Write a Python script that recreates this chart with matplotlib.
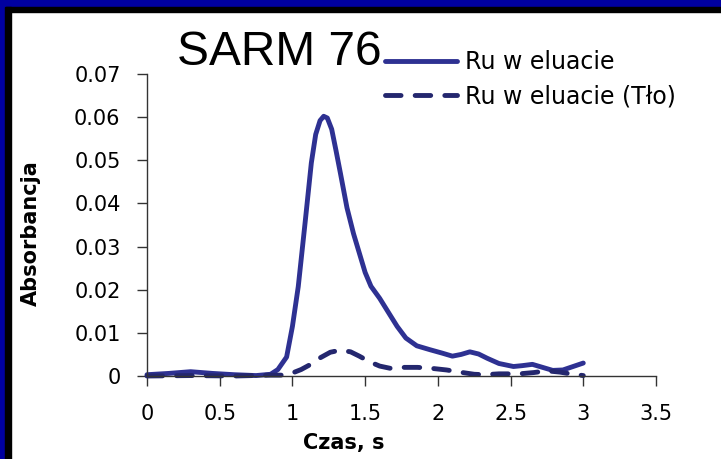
import matplotlib.pyplot as plt
from matplotlib.patches import Rectangle

# Ru w eluacie (solid)
t_ru = [0.0, 0.15, 0.3, 0.45, 0.6, 0.75, 0.85, 0.9, 0.96, 1.0, 1.04, 1.087, 1.13,
        1.16, 1.19, 1.215, 1.24, 1.27, 1.30, 1.33, 1.375, 1.42, 1.46, 1.5, 1.54,
        1.6, 1.67, 1.72, 1.78, 1.855, 1.945, 2.03, 2.1, 2.16, 2.22, 2.28, 2.34,
        2.42, 2.52, 2.58, 2.65, 2.72, 2.79, 2.86, 2.93, 3.0]
a_ru = [0.0003, 0.0006, 0.0010, 0.0006, 0.0003, 0.0001, 0.0004, 0.0015, 0.0044,
        0.0115, 0.0207, 0.0355, 0.0494, 0.0560, 0.0592, 0.0602, 0.0598, 0.0572,
        0.0522, 0.0470, 0.0390, 0.0330, 0.0285, 0.0240, 0.0208, 0.0180, 0.0142,
        0.0115, 0.0088, 0.0070, 0.0061, 0.0053, 0.0046, 0.0050, 0.0056, 0.0051,
        0.0041, 0.0029, 0.0022, 0.0024, 0.0027, 0.0020, 0.0013, 0.0014, 0.0022,
        0.0030]

# Ru w eluacie (Tło) (dashed)
t_bg = [0.0, 0.3, 0.6, 0.85, 0.95, 1.0, 1.06, 1.12, 1.19, 1.26, 1.33, 1.4, 1.46,
        1.53, 1.6, 1.67, 1.77, 1.86, 1.95, 2.06, 2.17, 2.25, 2.32, 2.42, 2.56,
        2.66, 2.75, 2.84, 2.91, 3.0]
a_bg = [0.0, 0.0001, 0.0, 0.0002, 0.0002, 0.0007, 0.0015, 0.0026, 0.0042, 0.0055,
        0.0060, 0.0056, 0.0046, 0.0033, 0.0023, 0.0018, 0.0020, 0.0020, 0.0018,
        0.0014, 0.0008, 0.0004, 0.0003, 0.0005, 0.0005, 0.0008, 0.0012, 0.0009,
        0.0005, 0.0001]

xticks = [0, 0.5, 1, 1.5, 2, 2.5, 3, 3.5]
yticks = [0, 0.01, 0.02, 0.03, 0.04, 0.05, 0.06, 0.07]

W, H = 721, 459
fig = plt.figure(figsize=(W / 100, H / 100), dpi=100)
ax = fig.add_axes([147 / W, 1 - 376 / H, (656 - 147) / W, (376 - 74) / H])

# frame of the slide: blue bar with a black inner line, top and left
fig.patches.append(Rectangle((0, 1 - 7 / H), 1, 7 / H, transform=fig.transFigure,
                             color='#0000A0', zorder=0))
fig.patches.append(Rectangle((0, 1 - 12 / H), 1, 5 / H, transform=fig.transFigure,
                             color='black', zorder=0))
fig.patches.append(Rectangle((0, 0), 5 / W, 1, transform=fig.transFigure,
                             color='#0000A0', zorder=0))
fig.patches.append(Rectangle((5 / W, 0), 6 / W, 1 - 7 / H, transform=fig.transFigure,
                             color='black', zorder=0))

solid, = ax.plot(t_ru, a_ru, color='#2E3192', lw=3.5, solid_capstyle='round',
                 solid_joinstyle='round', clip_on=False)
dashed, = ax.plot(t_bg, a_bg, color='#24276E', lw=3.5, dashes=(3.2, 2.9),
                  dash_capstyle='round', clip_on=False)

ax.set_xlim(0, 3.5)
ax.set_ylim(0, 0.07)
ax.set_xticks(xticks)
ax.set_xticklabels([f'{v:g}' for v in xticks])
ax.set_yticks(yticks)
ax.set_yticklabels([f'{v:g}' for v in yticks])

for s in ['top', 'right']:
    ax.spines[s].set_visible(False)
for s in ['left', 'bottom']:
    ax.spines[s].set_color('#333333')
    ax.spines[s].set_linewidth(1.0)

ax.tick_params(axis='both', direction='out', length=7, width=1.0, color='#333333',
               labelsize=15)
ax.tick_params(axis='x', pad=13)
ax.tick_params(axis='y', pad=12)

ax.set_xlabel('Czas, s', fontsize=15, fontweight='bold')
ax.xaxis.set_label_coords((344 - 147) / (656 - 147), -0.19)
ax.set_ylabel('Absorbancja', fontsize=15, fontweight='bold')
ax.yaxis.set_label_coords((41 - 147) / (656 - 147), (376 - 233) / (376 - 74))

fig.text(177 / W, 1 - 65 / H, 'SARM 76', fontsize=34.5, family='Liberation Sans',
         va='baseline', ha='left')

fig.legend([solid, dashed], ['Ru w eluacie', 'Ru w eluacie (Tło)'],
           loc='upper left', bbox_to_anchor=(385 / W, 1 - 50 / H),
           frameon=False, fontsize=17, handlelength=3.05, handletextpad=0.34,
           borderpad=0, borderaxespad=0, labelspacing=0.45)

fig.savefig('out.png', dpi=100)
